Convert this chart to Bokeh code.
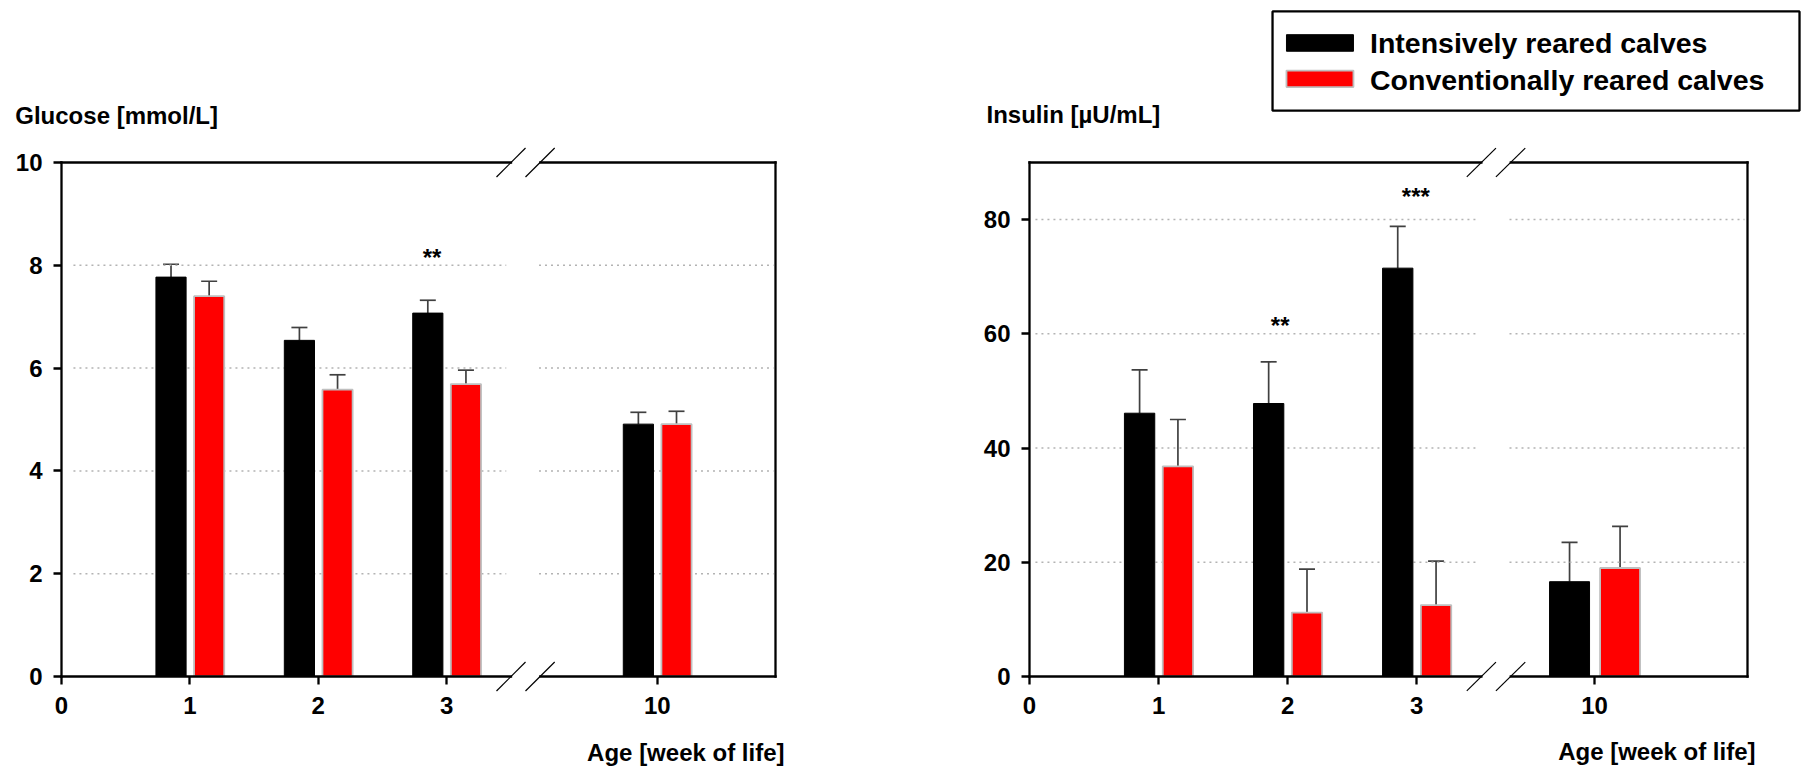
from bokeh.plotting import figure
from bokeh.layouts import row
from bokeh.models import ColumnDataSource, FixedTicker, Whisker, TeeHead, Range1d
from bokeh.core.properties import value
from bokeh.embed import file_html
from bokeh.resources import INLINE

# ---------------- data ----------------
weeks = [1, 2, 3, 10]
tick_weeks = [0, 1, 2, 3, 10]
tick_labels = ["0", "1", "2", "3", "10"]
series_labels = ["Intensively reared calves", "Conventionally reared calves"]

glucose_int = [7.77, 6.54, 7.07, 4.91]
glucose_int_se = [0.25, 0.25, 0.25, 0.23]
glucose_conv = [7.40, 5.58, 5.69, 4.91]
glucose_conv_se = [0.29, 0.29, 0.27, 0.25]
glucose_ticks = [0, 2, 4, 6, 8, 10]

insulin_int = [46.1, 47.8, 71.5, 16.6]
insulin_int_se = [7.6, 7.3, 7.3, 6.9]
insulin_conv = [36.8, 11.2, 12.5, 19.0]
insulin_conv_se = [8.2, 7.6, 7.7, 7.3]
insulin_ticks = [0, 20, 40, 60, 80]

glucose_sig = [(2.886, 8.15, "**")]
insulin_sig = [(1.942, 61.5, "**"), (2.993, 84.1, "***")]

# ---------------- style ----------------
FONT = "Liberation Sans"
RED = "#ff0000"
GREY_EDGE = "#bfbfbf"
ERR = "#404040"
BOX_W = 2.3
BAR_W = 0.235
OFF_I = -0.147
OFF_C = 0.150
BRK = 3.614
H = 768


def txt(p, xs, ys, texts, size, align, baseline):
    p.text(x=xs, y=ys, text=texts, text_font=value(FONT),
           text_font_size=value(size), text_font_style="bold",
           text_align=align, text_baseline=baseline, text_color="black",
           level="overlay")


def build(vi, si, vc, sc, y_ticks, y_max, x_max, pos10, s10, fig_w, b_left,
          b_right, b_top, frame_h, title, title_xy, age_xy, sigs, grid_x,
          legend=None):
    def pos(w):
        return float(w) if w <= 3 else pos10

    def scl(w):
        return 1.0 if w <= 3 else s10

    p = figure(width=fig_w, height=H, x_range=Range1d(0, x_max),
               y_range=Range1d(0, y_max), output_backend="svg",
               toolbar_location=None, min_border_left=b_left,
               min_border_right=b_right, min_border_top=b_top,
               min_border_bottom=H - b_top - frame_h)
    p.outline_line_color = None
    p.xgrid.visible = False
    p.ygrid.visible = False
    p.background_fill_color = "white"
    p.border_fill_color = "white"

    # dotted grid lines with a gap at the axis break
    gx0, gx1, gy = [], [], []
    for t in y_ticks:
        if 0 < t < y_max:
            for a, b in ((grid_x[0], BRK - 0.15), (BRK + 0.105, grid_x[1])):
                gx0.append(a); gx1.append(b); gy.append(t)
    p.segment(x0=gx0, y0=gy, x1=gx1, y1=gy, line_color="#b3b3b3",
              line_width=1.5, line_dash="2 4")

    # bars
    xi = [pos(w) + OFF_I * scl(w) for w in weeks]
    xc = [pos(w) + OFF_C * scl(w) for w in weeks]
    wd = [BAR_W * scl(w) for w in weeks]
    src_i = ColumnDataSource(dict(x=xi, top=vi, w=wd))
    src_c = ColumnDataSource(dict(x=xc, top=vc, w=wd))
    p.vbar(x="x", top="top", bottom=0, width="w", source=src_i,
           fill_color="black", line_color="black", line_width=1)
    p.vbar(x="x", top="top", bottom=0, width="w", source=src_c,
           fill_color=RED, line_color=GREY_EDGE, line_width=1.8)

    # error bars (upper only)
    for xs, vals, ses in ((xi, vi, si), (xc, vc, sc)):
        es = ColumnDataSource(dict(base=xs, lower=vals,
                                   upper=[v + s for v, s in zip(vals, ses)]))
        p.add_layout(Whisker(source=es, base="base", lower="lower",
                             upper="upper", line_color=ERR, line_width=1.7,
                             upper_head=TeeHead(size=16, line_color=ERR,
                                                line_width=1.7),
                             lower_head=None))

    # frame box with break gaps
    g0, g1 = BRK - 0.113, BRK + 0.115
    bx0 = [0, 0, g1, 0, g1, x_max]
    by0 = [0, 0, 0, y_max, y_max, 0]
    bx1 = [0, g0, x_max, g0, x_max, x_max]
    by1 = [y_max, 0, 0, y_max, y_max, y_max]
    p.segment(x0=bx0, y0=by0, x1=bx1, y1=by1, line_color="black",
              line_width=BOX_W, line_cap="square", level="overlay")

    # break slashes
    hh = 14.5 * y_max / frame_h
    sx0, sy0, sx1, sy1 = [], [], [], []
    for yb in (0, y_max):
        for a, b in ((BRK - 0.226, BRK), (BRK, BRK + 0.227)):
            sx0.append(a); sy0.append(yb - hh); sx1.append(b); sy1.append(yb + hh)
    p.segment(x0=sx0, y0=sy0, x1=sx1, y1=sy1, line_color="black",
              line_width=1.2, level="overlay")

    # axes
    xt = [pos(w) for w in tick_weeks]
    p.xaxis.ticker = FixedTicker(ticks=xt)
    p.xaxis.major_label_overrides = {t: l for t, l in zip(xt, tick_labels)}
    p.yaxis.ticker = FixedTicker(ticks=y_ticks)
    for ax in (p.xaxis[0], p.yaxis[0]):
        ax.axis_line_color = None
        ax.major_tick_out = 8
        ax.major_tick_in = 0
        ax.minor_tick_out = 0
        ax.minor_tick_in = 0
        ax.major_tick_line_width = BOX_W
        ax.major_tick_line_color = "black"
        ax.major_label_text_font = FONT
        ax.major_label_text_font_size = "24px"
        ax.major_label_text_font_style = "bold"
        ax.major_label_text_color = "black"
    p.xaxis.major_label_standoff = 12
    p.yaxis.major_label_standoff = 11

    # texts
    txt(p, [title_xy[0]], [title_xy[1]], [title], "24px", "left", "middle")
    txt(p, [age_xy[0]], [age_xy[1]], ["Age [week of life]"], "24px", "right", "middle")
    txt(p, [s[0] for s in sigs], [s[1] for s in sigs], [s[2] for s in sigs],
        "24px", "center", "alphabetic")

    # legend (drawn above the frame)
    if legend is not None:
        (bl, br, bt, bb), sw_x, sw_y, tx, ty = legend
        p.quad(left=[bl], right=[br], top=[bt], bottom=[bb], fill_color="white",
               line_color="black", line_width=BOX_W, level="overlay")
        p.quad(left=[sw_x[0]], right=[sw_x[1]], top=[sw_y[0][0]],
               bottom=[sw_y[0][1]], fill_color="black", line_color="black",
               line_width=1, level="overlay")
        p.quad(left=[sw_x[0]], right=[sw_x[1]], top=[sw_y[1][0]],
               bottom=[sw_y[1][1]], fill_color=RED, line_color=GREY_EDGE,
               line_width=1.8, level="overlay")
        txt(p, [tx, tx], ty, series_labels, "28.5px", "left", "middle")
    return p


p1 = build(glucose_int, glucose_int_se, glucose_conv, glucose_conv_se,
           glucose_ticks, 10, 5.561, 4.640, 1.0, 900, 61, 125, 162, 514,
           "Glucose [mmol/L]", (-0.360, 10.918), (5.631, -1.473),
           glucose_sig, (0.093, 5.545))

legend_geom = ((1.883, 5.966, 116.46, 99.07), (1.991, 2.510),
               ((112.38, 109.48), (106.10, 103.20)), 2.638, [110.93, 104.53])
p2 = build(insulin_int, insulin_int_se, insulin_conv, insulin_conv_se,
           insulin_ticks, 90, 5.563, 4.378, 1.318, 901, 129, 54, 160, 516,
           "Insulin [µU/mL]", (-0.333, 98.37), (5.625, -13.2),
           insulin_sig, (0.046, 5.540), legend=legend_geom)

layout = row(p1, p2)
open("out.html", "w").write(file_html(layout, INLINE))
